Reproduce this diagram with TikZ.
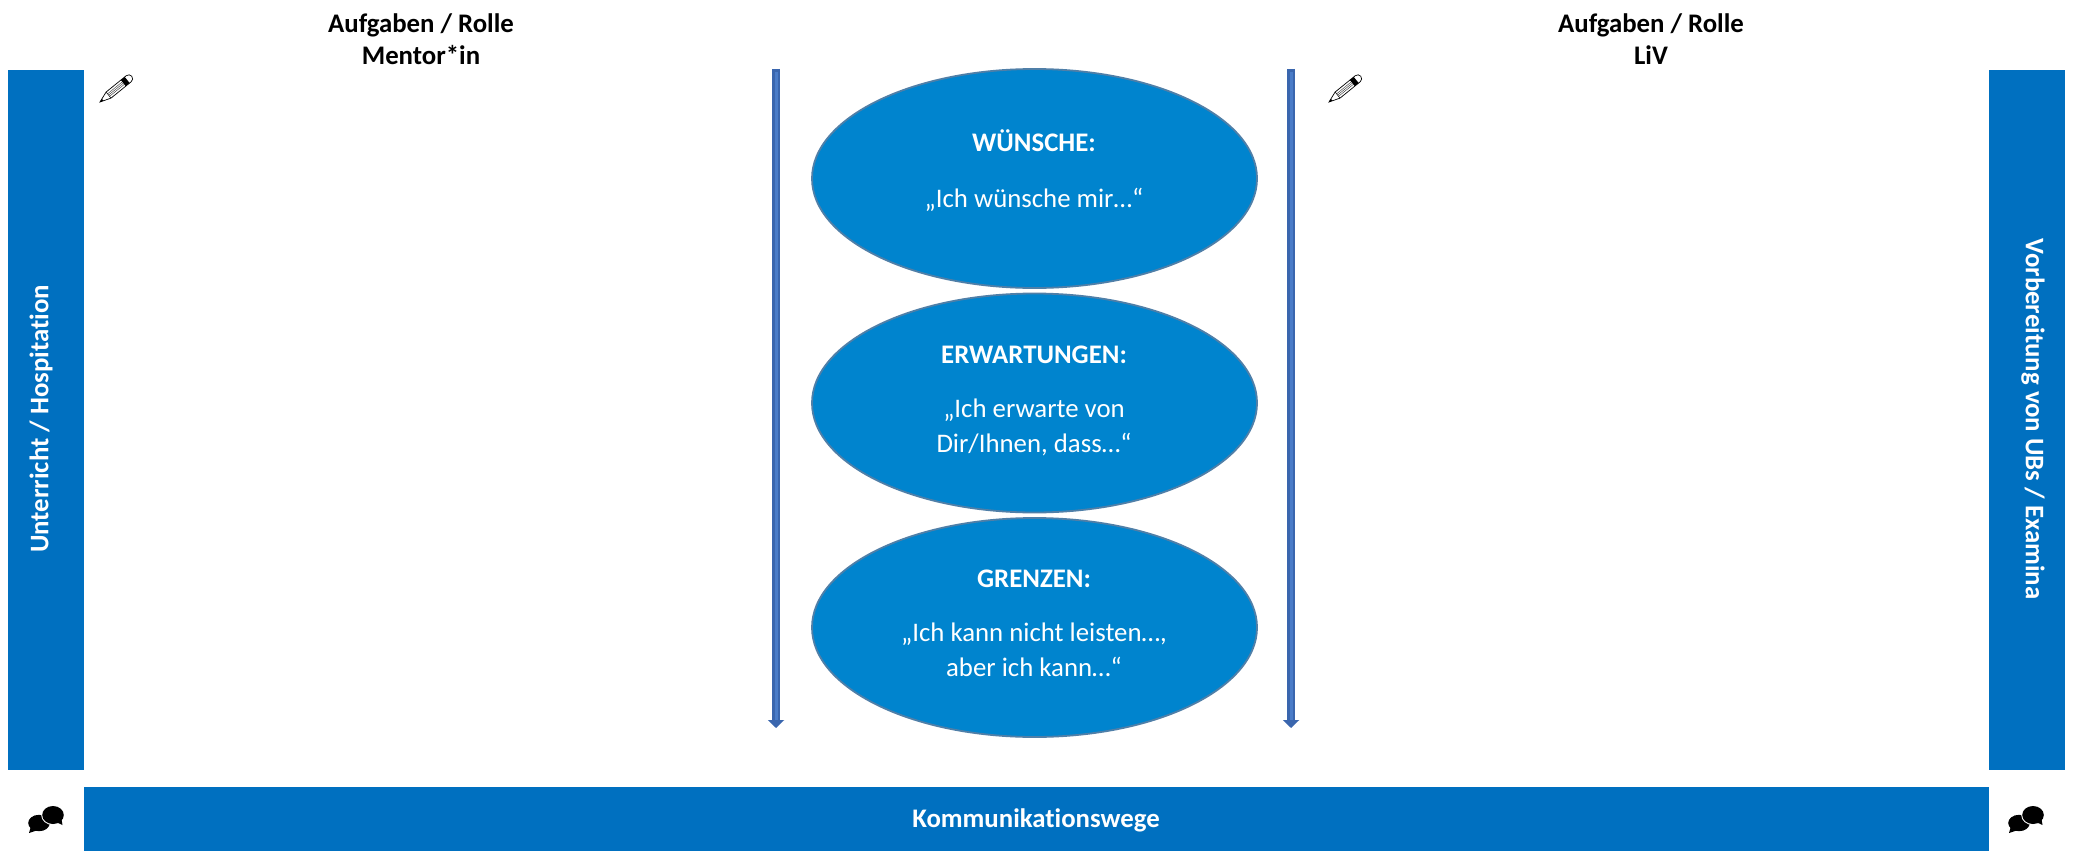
\documentclass[tikz,border=0pt]{standalone}
\usepackage{fontspec}
\setmainfont{Carlito}[Ligatures=NoCommon]
\usetikzlibrary{shapes.geometric,arrows.meta}
\definecolor{barblue}{HTML}{0070C0}
\definecolor{ovalblue}{HTML}{0084CE}
\definecolor{ovalline}{HTML}{4F7FA8}
\definecolor{arrowdark}{HTML}{3A66AE}
\definecolor{arrowlight}{HTML}{4A7CC8}
\tikzset{
  x=1pt,y=-1pt,
  bar/.style={fill=barblue,draw=none,inner sep=0pt,outer sep=0pt,text=white,font=\fontsize{26.8}{32}\selectfont\bfseries},
  oval/.style={ellipse,fill=ovalblue,draw=ovalline,line width=1.8pt,minimum width=445pt,minimum height=219pt,inner sep=0pt},
  ovalhead/.style={text=white,font=\fontsize{26.8}{32}\selectfont\bfseries,inner sep=0pt},
  ovaltext/.style={text=white,font=\fontsize{26.8}{35.5}\selectfont,align=center,inner sep=0pt},
  heading/.style={text=black,font=\fontsize{26.8}{32}\selectfont\bfseries,align=center,inner sep=0pt},
  flow/.style={draw=arrowdark,line width=7.5pt,-{Triangle[width=16pt,length=8pt]}},
  flowcore/.style={draw=arrowlight,line width=3pt},
  pencilicon/.pic={
    \begin{scope}[rotate=39]
      \draw[fill=white,line width=.7pt] (0,0) -- (11,-3.9) -- (37,-3.9) arc[start angle=-90,end angle=90,radius=3.9] -- (11,3.9) -- cycle;
      \fill (0,0) -- (3.5,-1.3) -- (3.5,1.3) -- cycle;
      \foreach \yy in {-1.6,0,1.6} \draw[line width=.45pt,black!75] (11,\yy) -- (30,\yy);
      \draw[line width=.5pt] (11,-3.9) -- (11,3.9);
      \fill (30,-3.9) rectangle (35,3.9);
    \end{scope}
  },
  bubbleicon/.pic={
    \fill[black] (-14,8) ellipse[x radius=10.8,y radius=8.2];
    \fill[black] (-22,11) -- (-24,18) -- (-15,15) -- cycle;
    \fill[white] (0,0) ellipse[x radius=11.8,y radius=10];
    \fill[black] (0,0) ellipse[x radius=10.8,y radius=9];
    \fill[black] (3,7) -- (9.5,10) -- (8.5,4) -- cycle;
  },
}
\begin{document}
\begin{tikzpicture}
\useasboundingbox (0,0) rectangle (2074,851);
\fill[white] (0,0) rectangle (2074,851);

\node[heading] (hl) at (421,39) {Aufgaben / Rolle\\Mentor*in};
\node[heading] (hr) at (1651,39) {Aufgaben / Rolle\\LiV};

\node[bar,minimum width=76pt,minimum height=700pt] (lbar) at (46,420) {};
\node[bar,rotate=90] (ltext) at (41,419) {Unterricht / Hospitation};
\node[bar,minimum width=76pt,minimum height=700pt] (rbar) at (2027,420) {};
\node[bar,rotate=-90] (rtext) at (2033,419) {Vorbereitung von UBs / Examina};
\node[bar,minimum width=1905pt,minimum height=64pt] (bbar) at (1036.5,819) {};
\node[bar] (btext) at (1036,820) {Kommunikationswege};

\coordinate (a1s) at (776,69);
\coordinate (a1e) at (776,728);
\coordinate (a2s) at (1291,69);
\coordinate (a2e) at (1291,728);
\draw[flow] (a1s) -- (a1e);
\draw[flow] (a2s) -- (a2e);
\draw[flowcore] ([yshift=-3pt]a1s) -- ([yshift=8pt]a1e);
\draw[flowcore] ([yshift=-3pt]a2s) -- ([yshift=8pt]a2e);

\node[oval] (o1) at (1034.5,178.5) {};
\node[oval] (o2) at (1034.5,403) {};
\node[oval] (o3) at (1034.5,627.5) {};

\node[ovalhead] (o1h) at (1034,141) {WÜNSCHE:};
\node[ovaltext] (o1t) at (1034,200) {„Ich wünsche mir…“};
\node[ovalhead] (o2h) at (1034,355) {ERWARTUNGEN:};
\node[ovaltext] (o2t) at (1034,427.5) {„Ich erwarte von\\Dir/Ihnen, dass…“};
\node[ovalhead] (o3h) at (1034,579) {GRENZEN:};
\node[ovaltext] (o3t) at (1034,650) {„Ich kann nicht leisten…,\\aber ich kann…“};

\pic at (100,102) {pencilicon};
\pic at (1329,102) {pencilicon};
\pic at (53,815) {bubbleicon};
\pic at (2033,815) {bubbleicon};
\end{tikzpicture}
\end{document}
